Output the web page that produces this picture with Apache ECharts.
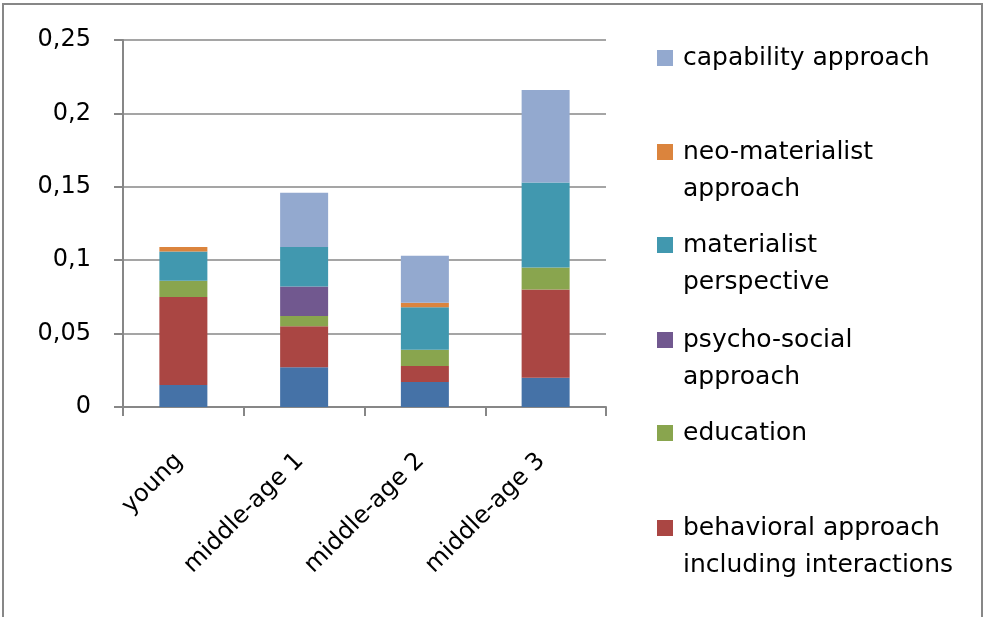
<!DOCTYPE html>
<html>
<head>
<meta charset="utf-8">
<title>Stacked contributions by age group</title>
<script src="https://cdn.jsdelivr.net/npm/echarts@6/dist/echarts.min.js"></script>
<style>
  html, body { margin: 0; padding: 0; background: #fff; }
  #chart { width: 985px; height: 617px; }
</style>
</head>
<body>
<div id="chart"></div>
<script>
// Age groups on the category axis
const categories = ['young', 'middle-age 1', 'middle-age 2', 'middle-age 3'];

// Stacked components, bottom to top
const otherFactors       = [0.015, 0.027, 0.017, 0.020];
const behavioral         = [0.060, 0.028, 0.011, 0.060];
const education          = [0.011, 0.007, 0.011, 0.015];
const psychoSocial       = [0,     0.020, 0,     0    ];
const materialist        = [0.020, 0.027, 0.029, 0.058];
const neoMaterialist     = [0.003, 0,     0.003, 0    ];
const capability         = [0,     0.037, 0.032, 0.063];

// Value-axis tick labels (decimal comma)
const yTickLabels = { 0: '0', 0.05: '0,05', 0.1: '0,1', 0.15: '0,15', 0.2: '0,2', 0.25: '0,25' };

const FONT = 'DejaVu Sans';
const GREY = '#878787';
const LINE_H = 37;
const TEXT_NUDGE = 4; // pushes legend text a little below the marker centre

const seriesDefs = [
  { name: 'other',                                        data: otherFactors,   color: '#4572A7' },
  { name: 'behavioral approach\nincluding interactions',  data: behavioral,     color: '#AA4643' },
  { name: 'education',                                    data: education,      color: '#89A54E' },
  { name: 'psycho-social\napproach',                      data: psychoSocial,   color: '#71588F' },
  { name: 'materialist\nperspective',                     data: materialist,    color: '#4198AF' },
  { name: 'neo-materialist\napproach',                    data: neoMaterialist, color: '#DB843D' },
  { name: 'capability approach',                          data: capability,     color: '#93A9CF' }
];

// Legend entries, top to bottom, with the y of each marker centre
const legendOrder = [
  ['capability approach', 58],
  ['neo-materialist\napproach', 152],
  ['materialist\nperspective', 245],
  ['psycho-social\napproach', 340],
  ['education', 433],
  ['behavioral approach\nincluding interactions', 528]
];

// One legend per entry; two-line entries get a blank leading line so the
// marker sits level with the first line of text.
const legends = legendOrder.map(([name, yc]) => {
  const twoLine = name.indexOf('\n') >= 0;
  const boxH = (twoLine ? 3 : 1) * LINE_H + TEXT_NUDGE;
  return {
    data: [name],
    orient: 'vertical',
    left: 657,
    top: yc - boxH / 2,
    padding: 0,
    itemWidth: 16,
    itemHeight: 16,
    itemGap: 0,
    icon: 'rect',
    selectedMode: false,
    formatter: n => (twoLine ? '\u00a0\n' + n : n),
    textStyle: {
      fontFamily: FONT,
      fontSize: 25,
      color: '#000',
      lineHeight: LINE_H,
      padding: [TEXT_NUDGE, 0, 0, 5]
    }
  };
});

const chart = echarts.init(document.getElementById('chart'), null, { renderer: 'canvas' });

chart.setOption({
  animation: false,
  backgroundColor: '#fff',
  textStyle: { fontFamily: FONT },
  graphic: [{
    type: 'rect',
    shape: { x: 3, y: 4, width: 979, height: 640 },
    style: { fill: 'none', stroke: GREY, lineWidth: 2 },
    silent: true
  }],
  legend: legends,
  grid: { left: 123, right: 379, top: 40, bottom: 210, containLabel: false },
  xAxis: {
    type: 'category',
    data: categories,
    axisLine: { show: true, lineStyle: { color: GREY, width: 2 } },
    axisTick: { show: true, alignWithLabel: false, length: 9, lineStyle: { color: GREY, width: 2 } },
    axisLabel: {
      rotate: 45,
      margin: 46,
      padding: [0, 6, 0, 0],
      fontFamily: FONT,
      fontSize: 24,
      color: '#000',
      interval: 0
    },
    splitLine: { show: false }
  },
  yAxis: {
    type: 'value',
    min: 0,
    max: 0.25,
    interval: 0.05,
    axisLine: { show: true, lineStyle: { color: GREY, width: 2 } },
    axisTick: { show: true, length: 9, lineStyle: { color: GREY, width: 2 } },
    axisLabel: {
      margin: 32,
      fontFamily: FONT,
      fontSize: 24,
      color: '#000',
      formatter: v => yTickLabels[Math.round(v * 100) / 100]
    },
    splitLine: { show: true, lineStyle: { color: GREY, width: 1.5 } }
  },
  series: seriesDefs.map(s => ({
    name: s.name,
    type: 'bar',
    stack: 'total',
    data: s.data,
    barWidth: 48,
    itemStyle: { color: s.color },
    emphasis: { disabled: true }
  }))
});
</script>
</body>
</html>
